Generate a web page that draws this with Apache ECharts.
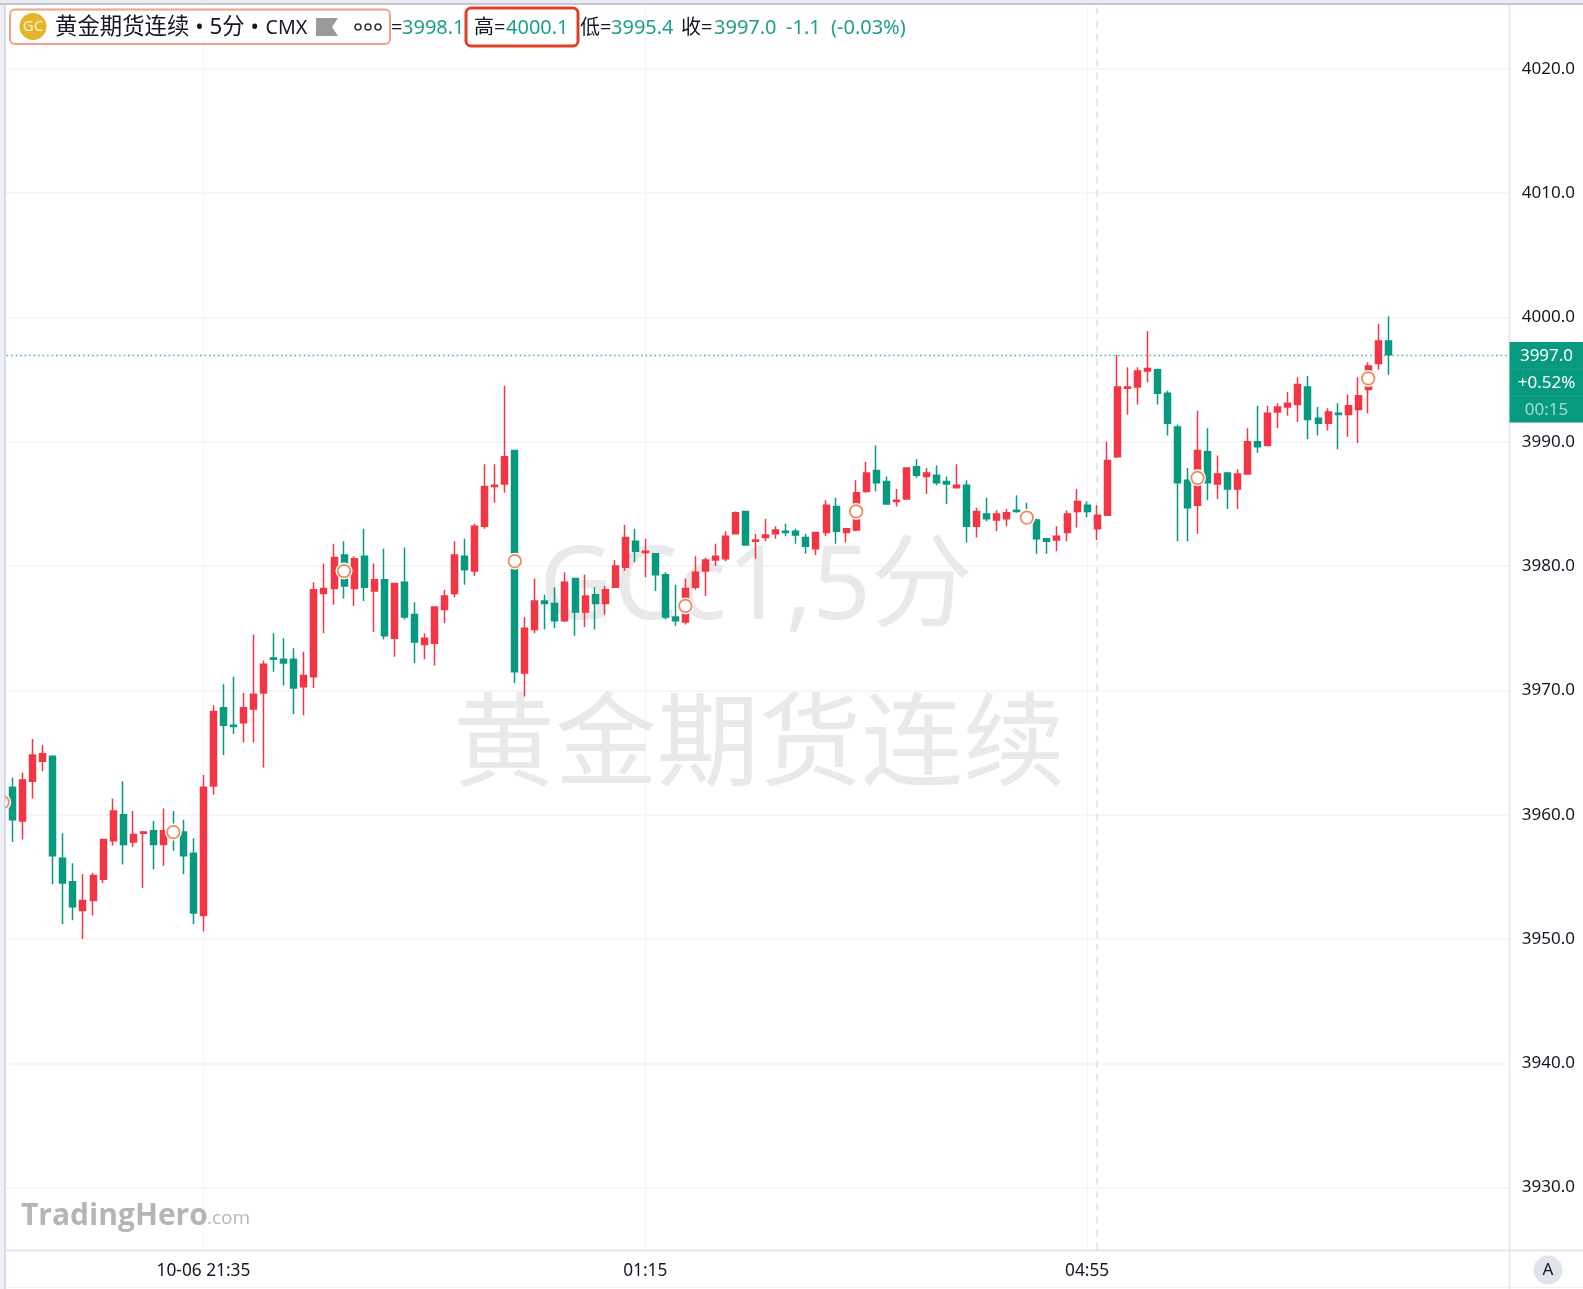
<!DOCTYPE html>
<html><head><meta charset="utf-8">
<style>html,body{margin:0;padding:0;background:#fff;overflow:hidden}#c{width:1583px;height:1289px;filter:blur(0.45px)}</style>
<script src="https://cdn.jsdelivr.net/npm/echarts@6/dist/echarts.min.js"></script>
</head><body><div id="c"></div>
<script>
const opens=[3960.5,3962.2,3959.5,3962.7,3964.3,3964.7,3956.5,3954.6,3952.3,3953.1,3954.8,3957.9,3960.0,3957.8,3958.5,3958.7,3957.6,3958.8,3958.6,3956.9,3951.9,3962.3,3968.6,3967.2,3967.4,3968.5,3969.8,3972.6,3972.5,3972.5,3970.3,3971.1,3977.8,3978.2,3980.9,3978.2,3980.8,3978.0,3978.9,3974.2,3978.7,3976.1,3973.7,3973.8,3976.5,3977.8,3980.8,3979.6,3983.2,3986.4,3986.6,3989.3,3971.4,3974.9,3977.2,3977.0,3975.6,3979.0,3976.3,3977.7,3977.0,3978.3,3979.9,3982.0,3981.1,3981.0,3979.3,3975.9,3975.5,3978.3,3979.6,3980.5,3980.6,3982.6,3984.4,3982.0,3982.3,3982.6,3982.8,3982.8,3982.3,3981.4,3982.7,3984.8,3982.7,3982.9,3986.0,3987.7,3986.8,3985.2,3985.4,3988.0,3987.2,3987.3,3986.8,3986.3,3986.5,3983.2,3984.2,3983.7,3983.8,3984.5,3984.3,3983.7,3982.2,3982.1,3982.7,3984.4,3984.9,3983.0,3984.1,3988.8,3994.3,3994.4,3995.7,3995.8,3993.9,3991.2,3986.9,3984.9,3989.2,3986.6,3987.5,3986.2,3987.4,3990.0,3989.7,3992.4,3992.8,3993.0,3994.4,3991.9,3991.5,3992.3,3992.2,3992.6,3994.2,3996.3,3998.1];
const closes=[3961.5,3959.6,3962.8,3964.8,3964.9,3956.7,3954.5,3952.6,3953.1,3955.1,3958.0,3960.3,3957.6,3958.4,3958.6,3957.6,3958.7,3958.2,3956.7,3952.1,3962.2,3968.3,3967.2,3967.1,3968.6,3969.7,3972.1,3972.5,3972.2,3970.2,3971.2,3978.1,3978.2,3980.7,3978.4,3980.6,3978.3,3978.9,3974.4,3978.6,3975.9,3973.9,3974.2,3976.7,3977.6,3980.9,3979.7,3983.2,3986.4,3986.5,3988.8,3971.5,3975.0,3977.2,3977.0,3975.6,3978.7,3976.3,3977.6,3977.0,3978.1,3980.0,3982.3,3981.2,3981.2,3979.3,3975.9,3975.6,3978.2,3979.5,3980.5,3980.8,3982.4,3984.3,3981.7,3982.1,3982.5,3982.9,3982.7,3982.5,3981.6,3982.7,3984.9,3982.8,3983.0,3985.9,3987.5,3986.7,3985.0,3985.3,3987.9,3987.3,3987.5,3986.7,3986.6,3986.5,3983.2,3984.4,3983.8,3984.2,3984.3,3984.4,3983.7,3982.2,3982.0,3982.4,3984.2,3985.2,3984.4,3984.1,3988.5,3994.4,3994.4,3995.7,3995.9,3993.9,3991.5,3986.7,3984.7,3989.3,3986.7,3987.4,3986.2,3987.4,3990.0,3989.6,3992.3,3992.8,3993.1,3994.6,3991.8,3991.5,3992.4,3992.2,3992.9,3993.7,3996.1,3998.1,3997.0];
const lows=[3960.0,3957.8,3958.0,3961.3,3963.5,3954.4,3951.2,3951.5,3950.0,3951.9,3954.5,3957.5,3956.0,3957.4,3954.1,3955.6,3955.9,3957.1,3955.2,3951.2,3950.6,3961.6,3964.8,3966.5,3965.8,3965.8,3963.8,3971.5,3970.4,3968.1,3968.0,3970.2,3974.6,3976.9,3977.4,3976.8,3977.2,3974.7,3974.1,3972.7,3975.7,3972.2,3972.5,3972.0,3975.4,3977.5,3978.5,3979.2,3983.0,3985.1,3985.9,3970.6,3969.5,3974.6,3974.9,3975.0,3975.5,3974.4,3975.1,3974.9,3976.1,3978.3,3979.6,3980.3,3979.1,3978.0,3975.7,3975.2,3975.3,3978.1,3977.6,3980.0,3980.4,3982.6,3981.7,3980.6,3982.0,3982.2,3982.4,3981.8,3981.0,3980.9,3982.4,3981.8,3981.9,3982.8,3985.9,3986.0,3985.0,3984.8,3985.4,3987.1,3985.8,3986.5,3985.0,3986.3,3981.9,3982.3,3983.6,3982.8,3983.2,3984.3,3983.5,3981.0,3981.0,3981.2,3982.0,3983.1,3983.9,3982.1,3984.1,3988.7,3992.2,3993.0,3994.8,3993.0,3990.5,3982.0,3982.0,3982.6,3985.3,3985.4,3984.6,3984.6,3987.4,3989.1,3989.7,3991.1,3992.1,3991.6,3990.2,3990.5,3990.9,3989.4,3990.4,3989.9,3992.3,3995.8,3995.4];
const highs=[3962.0,3963.0,3963.4,3966.1,3965.6,3964.7,3958.5,3956.1,3955.2,3955.3,3958.0,3961.3,3962.7,3960.3,3958.7,3959.5,3960.5,3960.3,3959.6,3958.1,3963.2,3968.8,3970.5,3971.1,3969.8,3974.5,3972.4,3974.6,3974.2,3973.4,3973.1,3978.7,3980.2,3981.8,3982.0,3980.8,3983.0,3980.2,3981.4,3978.6,3981.5,3977.1,3974.6,3976.7,3978.1,3982.0,3982.2,3983.4,3988.2,3988.2,3994.5,3989.3,3975.9,3979.0,3977.7,3978.3,3979.5,3979.0,3979.3,3978.3,3978.4,3980.5,3983.3,3983.0,3982.2,3981.0,3979.5,3978.5,3979.0,3980.8,3980.7,3981.8,3982.8,3984.4,3984.4,3982.6,3983.8,3983.2,3983.4,3983.0,3982.6,3982.7,3985.3,3985.5,3983.0,3986.9,3988.4,3989.7,3987.2,3986.2,3987.9,3988.6,3987.9,3988.1,3987.2,3988.2,3986.9,3984.7,3985.5,3984.5,3984.6,3985.7,3985.1,3983.8,3982.2,3983.2,3984.5,3986.2,3985.2,3984.9,3990.0,3997.0,3996.0,3996.0,3998.9,3995.9,3994.1,3991.4,3987.9,3992.5,3991.1,3988.9,3987.6,3987.8,3991.1,3992.9,3992.9,3993.1,3994.0,3995.2,3995.3,3992.8,3992.7,3993.1,3993.8,3995.2,3996.4,3999.5,4000.1];
const markerBars=[0,17,34,51,68,85,102,119,136];
const markerPrices=[3961.0,3958.6,3979.6,3980.4,3976.8,3984.4,3983.9,3987.1,3995.1];
const priceTicks=[3930,3940,3950,3960,3970,3980,3990,4000,4010,4020];
const timeTicks=['21:35','01:15','04:55'];
const dateOfFirstTick='10-06 ';
const crosshairTime='05:00';
const lastPrice=3997.0;
const header={name:'黄金期货连续',open:'3998.1',high:'4000.1',low:'3995.4',close:'3997.0',change:'-1.1',changePct:'(-0.03%)'};
const tag=['3997.0','+0.52%','00:15'];

const barCount=151;
const categories=[];
for(let i=0;i<barCount;i++){
  const m=(19*60+55+i*5)%(24*60);
  categories.push(String(Math.floor(m/60)).padStart(2,'0')+':'+String(m%60).padStart(2,'0'));
}
const UP='#F23645',DOWN='#089981',GRID='#F1F3F8',FRAME='#E7E9F0',TXT='#131722';
const FONT='"Noto Sans","Noto Sans CJK SC",sans-serif';
const isTick=(i,v)=>timeTicks.includes(v);
const txt=(x,y,t,fill,size,extra)=>({type:'text',x,y,z:120,silent:true,style:Object.assign({text:t,fill,font:`${size}px ${FONT}`,textVerticalAlign:'middle',textAlign:'left'},extra||{})});
const G='#1E9E8B';
const chart=echarts.init(document.getElementById('c'),null,{renderer:'canvas'});
chart.setOption({
  animation:false,
  backgroundColor:'#fff',
  grid:{left:-2.36,top:6.75,width:1516.2,height:1243,containLabel:false,outerBoundsMode:'none'},
  xAxis:{type:'category',data:categories,boundaryGap:true,
    axisLine:{show:false},axisTick:{show:false},
    axisLabel:{interval:isTick,formatter:v=>v===timeTicks[0]?dateOfFirstTick+v:v,color:TXT,fontSize:17.3,fontFamily:FONT,margin:11,lineHeight:20},
    splitLine:{show:true,interval:isTick,alignWithLabel:true,lineStyle:{color:GRID,width:1}}},
  yAxis:{type:'value',position:'right',min:3925,max:4025,scale:true,
    axisLine:{show:false},
    axisTick:{show:false,customValues:priceTicks},
    axisLabel:{customValues:priceTicks,formatter:v=>v.toFixed(1),color:TXT,fontSize:17,fontFamily:FONT,margin:8,padding:[4,0,0,0]},
    splitLine:{show:true,lineStyle:{color:GRID,width:1.5}}},
  series:[
    {type:'candlestick',barWidth:6.5,z:3,
     data:closes.map((c,i)=>[opens[i],c,lows[i],highs[i]]),
     itemStyle:{color:UP,color0:DOWN,borderColor:UP,borderColor0:DOWN,borderWidth:1.5},
     markLine:{silent:true,symbol:'none',label:{show:false},animation:false,z:1,
       data:[
         {xAxis:crosshairTime,lineStyle:{color:'#DDE0E9',type:[7,6],width:1.5}},
         {yAxis:lastPrice,lineStyle:{color:'#3FB29F',type:[1.5,3],width:1.4}}
       ]}},
    {type:'scatter',z:4,symbol:'circle',symbolSize:17,silent:true,
     data:markerBars.map((b,i)=>[b,markerPrices[i]]),
     itemStyle:{color:'#fff',opacity:1}},
    {type:'scatter',z:5,symbol:'circle',symbolSize:12.5,silent:true,
     data:markerBars.map((b,i)=>[b,markerPrices[i]]),
     itemStyle:{color:'#fff',borderColor:'#F08A5D',borderWidth:1.8,opacity:1}}
  ],
  graphic:{elements:[
    // watermark
    {type:'text',x:756,y:590,z:1,silent:true,style:{text:'GCc1,5分',fill:'#E9E9EB',font:`102px ${FONT}`,textAlign:'center',textVerticalAlign:'middle'}},
    {type:'text',x:759,y:749,z:1,silent:true,style:{text:header.name,fill:'#E9E9EB',font:`102px ${FONT}`,textAlign:'center',textVerticalAlign:'middle'}},
    // frame masks
    {type:'rect',z:100,silent:true,shape:{x:0,y:0,width:5,height:1289},style:{fill:'#EEF0F6'}},
    {type:'rect',z:101,silent:true,shape:{x:4.5,y:5,width:1,height:1284},style:{fill:'#B9BDCB'}},
    {type:'rect',z:100,silent:true,shape:{x:0,y:0,width:1583,height:3},style:{fill:'#E9EBF3'}},
    {type:'rect',z:101,silent:true,shape:{x:0,y:3,width:1583,height:2},style:{fill:'#C3C7D3'}},
    {type:'rect',z:100,silent:true,shape:{x:1510,y:5,width:5,height:1245},style:{fill:'#fff'}},
    {type:'rect',z:101,silent:true,shape:{x:1508.5,y:5,width:2,height:1284},style:{fill:FRAME}},
    {type:'rect',z:101,silent:true,shape:{x:5,y:1249.5,width:1578,height:2},style:{fill:'#E4E6EE'}},
    {type:'rect',z:101,silent:true,shape:{x:5,y:1287,width:1578,height:1},style:{fill:'#EEF0F5'}},
    // logo
    {type:'text',x:21,y:1216,z:90,silent:true,style:{text:'TradingHero',fill:'#B5B5B5',font:`bold 30px "Open Sans",${FONT}`,textVerticalAlign:'middle'}},
    {type:'text',x:207,y:1219,z:90,silent:true,style:{text:'.com',fill:'#B8B8B8',font:`19px "Open Sans",${FONT}`,textVerticalAlign:'middle'}},
    // price tag
    {type:'rect',z:110,silent:true,shape:{x:1509.5,y:342,width:73.5,height:80.5},style:{fill:DOWN}},
    {type:'rect',z:111,silent:true,shape:{x:1509.5,y:368.5,width:73.5,height:1},style:{fill:'#1BA08A'}},
    {type:'rect',z:111,silent:true,shape:{x:1509.5,y:395.5,width:73.5,height:1},style:{fill:'#1BA08A'}},
    txt(1546.5,356.5,tag[0],'#fff',17,{textAlign:'center'}),
    txt(1546.5,383.5,tag[1],'#fff',17,{textAlign:'center'}),
    txt(1546.5,410.5,tag[2],'#A5DDD2',17,{textAlign:'center'}),
    // A badge
    {type:'circle',z:110,silent:true,shape:{cx:1548,cy:1270,r:14.5},style:{fill:'#E0E3EB'}},
    txt(1548,1270.5,'A',TXT,17,{textAlign:'center'}),
    // header box
    {type:'rect',z:105,silent:true,shape:{x:10,y:9.5,width:380,height:34.5,r:5},style:{fill:'#fff',stroke:'#F2A088',lineWidth:2}},
    {type:'circle',z:110,silent:true,shape:{cx:33,cy:26.5,r:13.5},style:{fill:'#E2B52B'}},
    txt(33,27,'GC','#FBF2D2',15,{textAlign:'center'}),
    txt(55,28,header.name+' • 5分 •',TXT,22.4),
    txt(265.5,28,'CMX',TXT,19.6),
    {type:'polygon',z:110,silent:true,shape:{points:[[316,18],[338,18],[332,27],[338,36],[316,36]]},style:{fill:'#9A9A9A'}},
    {type:'circle',z:110,silent:true,shape:{cx:358,cy:27,r:3},style:{fill:'#fff',stroke:'#333',lineWidth:1.5}},
    {type:'circle',z:110,silent:true,shape:{cx:368,cy:27,r:3},style:{fill:'#fff',stroke:'#333',lineWidth:1.5}},
    {type:'circle',z:110,silent:true,shape:{cx:378,cy:27,r:3},style:{fill:'#fff',stroke:'#333',lineWidth:1.5}},
    // OHLC
    txt(391,28,'=',TXT,20),
    txt(402,28,header.open,G,20),
    {type:'rect',z:115,silent:true,shape:{x:466,y:8,width:112,height:38,r:5},style:{fill:'#fff',stroke:'#E0402B',lineWidth:3}},
    txt(474,28,'高=',TXT,20),
    txt(506,28,header.high,G,20),
    txt(580,28,'低=',TXT,20),
    txt(611,28,header.low,G,20),
    txt(681,28,'收=',TXT,20),
    txt(714,28,header.close,G,20),
    txt(786,28,header.change,G,20),
    txt(831,28,header.changePct,G,20)
  ]}
});
</script></body></html>
